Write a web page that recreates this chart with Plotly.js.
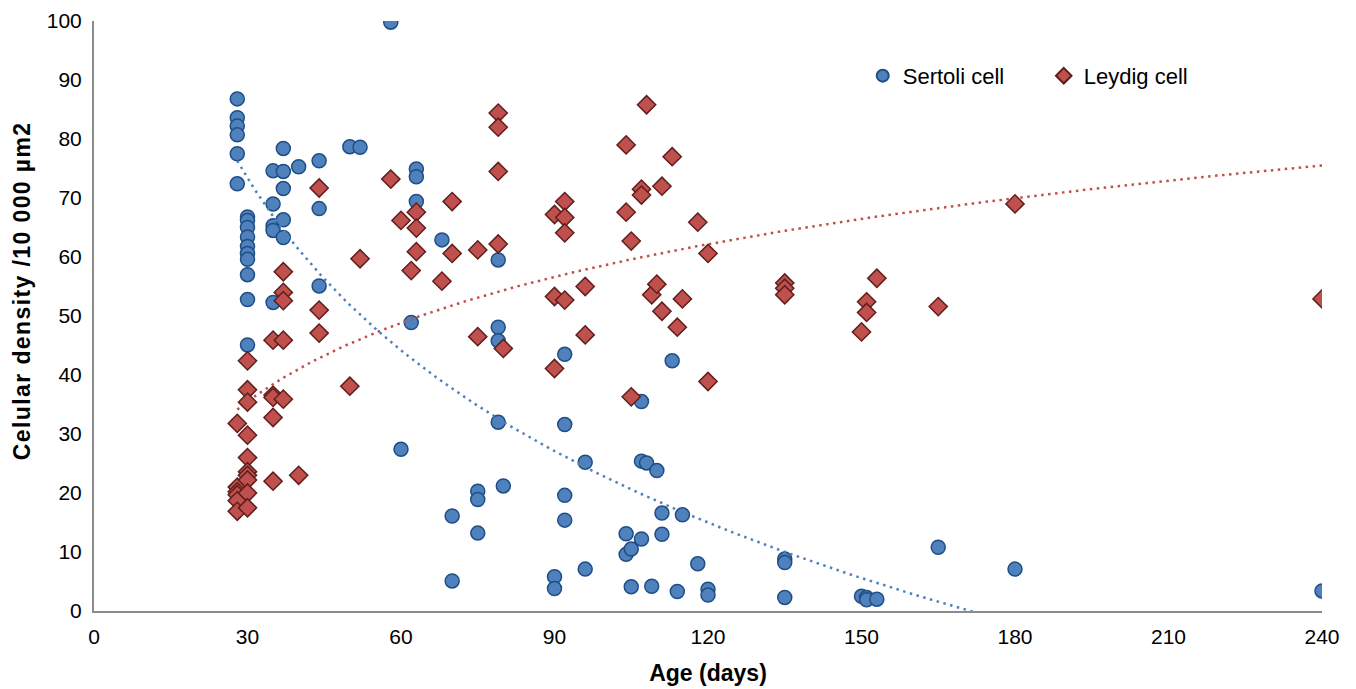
<!DOCTYPE html>
<html>
<head>
<meta charset="utf-8">
<script src="https://cdn.plot.ly/plotly-3.0.1.min.js"></script>
<style>
  html, body { margin: 0; padding: 0; background: #fff; }
  #chart { width: 1356px; height: 689px; }
  #chart .annotation-text { letter-spacing: 1.4px; }
</style>
</head>
<body>
<div id="chart"></div>
<script>
// Sertoli cell density (age in days, density /10 000 µm2)
const sertoliAge = [
  28, 28, 28, 28, 28, 28,
  30, 30, 30, 30, 30, 30, 30, 30, 30, 30,
  35, 35, 35, 35, 35,
  37, 37, 37, 37, 37,
  40,
  44, 44, 44,
  50, 52, 58, 60, 62,
  63, 63, 63,
  68,
  70, 70,
  75, 75, 75,
  79, 79, 79, 79,
  80,
  90, 90,
  92, 92, 92, 92,
  96, 96,
  104, 104,
  105, 105,
  107, 107, 107,
  108, 109, 110,
  111, 111,
  113, 114, 115, 118,
  120, 120,
  135, 135, 135,
  150, 151, 151, 153,
  165, 180, 240
];
const sertoliDensity = [
  86.8, 83.6, 82.2, 80.7, 77.5, 72.4,
  66.8, 66.2, 65.0, 63.4, 61.8, 60.6, 59.6, 57.0, 52.8, 45.1,
  74.6, 69.0, 65.3, 64.5, 52.3,
  78.4, 74.5, 71.6, 66.3, 63.3,
  75.3,
  76.3, 68.2, 55.1,
  78.7, 78.6, 99.8, 27.4, 48.9,
  74.9, 73.6, 69.4,
  62.9,
  16.1, 5.1,
  20.3, 18.9, 13.2,
  59.5, 48.1, 45.8, 32.0,
  21.2,
  5.8, 3.8,
  43.5, 31.6, 19.6, 15.4,
  25.2, 7.1,
  13.1, 9.6,
  10.5, 4.1,
  35.5, 25.4, 12.2,
  25.1, 4.2, 23.8,
  16.6, 13.0,
  42.4, 3.3, 16.3, 8.0,
  3.7, 2.7,
  8.8, 8.2, 2.3,
  2.5, 2.3, 1.9, 2.0,
  10.8, 7.1, 3.4
];

// Leydig cell density
const leydigAge = [
  28, 28, 28, 28, 28, 28,
  30, 30, 30, 30, 30, 30, 30, 30, 30, 30,
  35, 35, 35, 35, 35,
  37, 37, 37, 37, 37,
  40,
  44, 44, 44,
  50, 52, 58, 60, 62,
  63, 63, 63,
  68,
  70, 70,
  75, 75,
  79, 79, 79, 79,
  80,
  90, 90, 90,
  92, 92, 92, 92,
  96, 96,
  104, 104,
  105, 105,
  107, 107,
  108, 109, 110,
  111, 111,
  113, 114, 115, 118,
  120, 120,
  135, 135, 135,
  150, 151, 151, 153,
  165, 180, 240
];
const leydigDensity = [
  31.8, 21.0, 20.2, 19.7, 18.7, 16.9,
  42.4, 37.5, 35.4, 29.8, 26.0, 23.6, 23.0, 22.2, 20.0, 17.5,
  45.9, 36.6, 36.2, 32.8, 22.0,
  57.5, 54.0, 52.6, 45.9, 35.9,
  23.0,
  71.7, 51.0, 47.1,
  38.1, 59.7, 73.2, 66.2, 57.7,
  67.6, 64.9, 60.9,
  55.9,
  69.4, 60.6,
  61.2, 46.5,
  84.4, 82.0, 74.5, 62.2,
  44.5,
  67.2, 53.3, 41.1,
  69.4, 66.7, 64.1, 52.7,
  55.0, 46.8,
  79.0, 67.6,
  62.7, 36.3,
  71.5, 70.5,
  85.8, 53.6, 55.4,
  72.0, 50.8,
  77.0, 48.1, 52.9, 65.9,
  60.6, 38.9,
  55.6, 54.7, 53.6,
  47.3, 52.4, 50.6, 56.4,
  51.6, 69.0, 52.9
];

const xTicks = [0, 30, 60, 90, 120, 150, 180, 210, 240];
const yTicks = [0, 10, 20, 30, 40, 50, 60, 70, 80, 90, 100];
const xTitle = 'Age (days)';
const yTitle = 'Celular density /10 000 µm2';

// Logarithmic least-squares trendline (y = a + b ln x), as in a spreadsheet
function logFit(xs, ys) {
  const n = xs.length;
  let sx = 0, sy = 0, sxx = 0, sxy = 0;
  for (let i = 0; i < n; i++) {
    const lx = Math.log(xs[i]);
    sx += lx; sy += ys[i]; sxx += lx * lx; sxy += lx * ys[i];
  }
  const b = (n * sxy - sx * sy) / (n * sxx - sx * sx);
  const a = (sy - b * sx) / n;
  return { a, b };
}
function trendPoints(xs, ys) {
  const f = logFit(xs, ys);
  const xmin = Math.min(...xs), xmax = Math.max(...xs);
  const tx = [], ty = [];
  const steps = 300;
  for (let i = 0; i <= steps; i++) {
    const x = xmin + (xmax - xmin) * i / steps;
    tx.push(x); ty.push(f.a + f.b * Math.log(x));
  }
  return { tx, ty };
}

const blue = '#4F81BD', blueLine = '#1F4E85';
const red = '#C0504D', redLine = '#5E1F1D';

const tS = trendPoints(sertoliAge, sertoliDensity);
const tL = trendPoints(leydigAge, leydigDensity);

const traces = [
  {
    x: sertoliAge, y: sertoliDensity, type: 'scatter', mode: 'markers',
    name: 'Sertoli cell',
    marker: { symbol: 'circle', size: 14, color: blue, line: { color: blueLine, width: 1.5 } }
  },
  {
    x: leydigAge, y: leydigDensity, type: 'scatter', mode: 'markers',
    name: 'Leydig cell',
    marker: { symbol: 'diamond', size: 14, color: red, line: { color: redLine, width: 1.5 } }
  },
  {
    x: tS.tx, y: tS.ty, type: 'scatter', mode: 'lines', showlegend: false,
    hoverinfo: 'skip', line: { color: blue, width: 2.5, dash: '2.5px,4.5px' }
  },
  {
    x: tL.tx, y: tL.ty, type: 'scatter', mode: 'lines', showlegend: false,
    hoverinfo: 'skip', line: { color: red, width: 2.5, dash: '2.5px,4.5px' }
  }
];

const font = 'Liberation Sans, Arial, sans-serif';
const layout = {
  width: 1356, height: 689,
  margin: { l: 94, r: 34, t: 21, b: 78 },
  paper_bgcolor: '#fff', plot_bgcolor: '#fff',
  font: { family: font, size: 21, color: '#000' },
  showlegend: true,
  legend: {
    orientation: 'h', x: 0.626, y: 0.907, xanchor: 'left', yanchor: 'middle',
    font: { family: font, size: 22, color: '#000' },
    itemsizing: 'constant', itemwidth: 30,
    entrywidth: 136, entrywidthmode: 'pixels',
    tracegroupgap: 0, bgcolor: 'rgba(0,0,0,0)'
  },
  xaxis: {
    range: [0, 240], tickvals: xTicks, ticktext: xTicks.map(String),
    showgrid: false, zeroline: false, showline: true, linecolor: '#8C8C8C', linewidth: 2,
    ticks: '', ticklabelstandoff: 6, tickfont: { family: font, size: 21, color: '#000' },
    title: { text: '<b>' + xTitle + '</b>', font: { family: font, size: 23, color: '#000' }, standoff: 18 },
    fixedrange: true
  },
  yaxis: {
    range: [0, 100], tickvals: yTicks, ticktext: yTicks.map(String),
    showgrid: false, zeroline: false, showline: true, linecolor: '#8C8C8C', linewidth: 2,
    ticks: '', ticklabelstandoff: 6, tickfont: { family: font, size: 21, color: '#000' },
    fixedrange: true
  },
  annotations: [{
    text: '<b>' + yTitle + '</b>', textangle: -90,
    xref: 'paper', yref: 'paper', x: -0.0586, y: 0.542,
    xanchor: 'center', yanchor: 'middle', showarrow: false,
    font: { family: font, size: 23, color: '#000' }
  }]
};

Plotly.newPlot('chart', traces, layout, { displayModeBar: false, staticPlot: true });
</script>
</body>
</html>
